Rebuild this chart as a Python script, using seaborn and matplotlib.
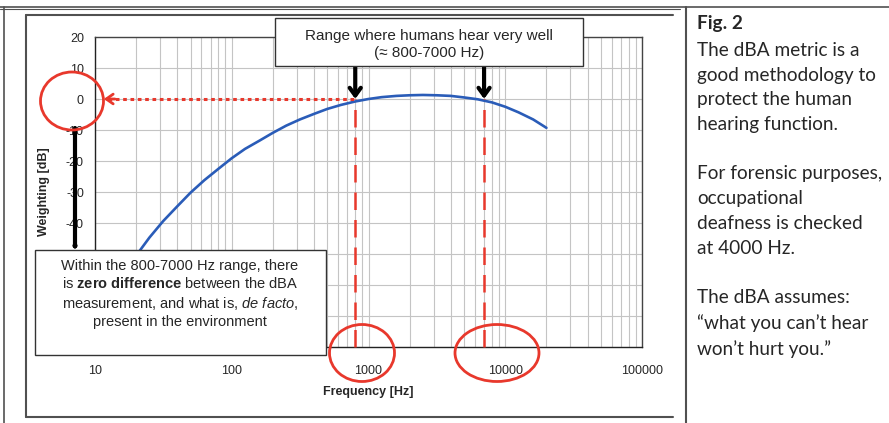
"""
A-weighting curve with annotations (Fig. 2 recreation).
"""

import matplotlib
matplotlib.use("Agg")
import matplotlib.pyplot as plt
import matplotlib.ticker as mticker
from matplotlib.lines import Line2D
from matplotlib.patches import Ellipse, FancyArrowPatch, Rectangle
import seaborn as sns

# Data: A-weighting, 1/3-octave bands
FREQ_HZ = [12.5, 16, 20, 25, 31.5, 40, 50, 63, 80, 100, 125, 160, 200, 250,
           315, 400, 500, 630, 800, 1000, 1250, 1600, 2000, 2500, 3150,
           4000, 5000, 6300, 8000, 10000, 12500, 16000, 20000]
WEIGHT_DB = [-63.4, -56.7, -50.5, -44.7, -39.4, -34.6, -30.2, -26.2, -22.5,
             -19.1, -16.1, -13.4, -10.9, -8.6, -6.6, -4.8, -3.2, -1.9, -0.8,
             0.0, 0.6, 1.0, 1.2, 1.3, 1.2, 1.0, 0.5, -0.1, -1.1, -2.5, -4.3,
             -6.6, -9.3]
RANGE_HZ = [800, 7000]
XTICKS = [10, 100, 1000, 10000, 100000]
XTICK_LABELS = ["10", "100", "1000", "10000", "100000"]
YTICKS = [-80, -70, -60, -50, -40, -30, -20, -10, 0, 10, 20]
# labels under the text box are hidden in the original
YTICK_LABELS = ["", "", "", "", "-40", "-30", "-20", "-10", "0", "10", "20"]

BLUE = "#2a5cb8"
RED = "#e8382c"
FRAME = "#505050"
W, H = 889, 423

sns.set_style("white")
plt.rcParams["font.family"] = ["Liberation Sans", "DejaVu Sans"]
plt.rcParams["axes.unicode_minus"] = False
plt.rcParams["mathtext.fontset"] = "custom"
plt.rcParams["mathtext.rm"] = "Liberation Sans"
plt.rcParams["mathtext.bf"] = "Liberation Sans:bold"
plt.rcParams["mathtext.it"] = "Liberation Sans:italic"


def px(x, y):
    """pixel position (top-left origin) -> figure fraction"""
    return x / W, 1 - y / H


fig = plt.figure(figsize=(W / 100, H / 100), dpi=100)
ax = fig.add_axes([95 / W, 1 - 347 / H, 547 / W, 310 / H])

sns.lineplot(x=FREQ_HZ, y=WEIGHT_DB, ax=ax, color=BLUE, linewidth=1.9, zorder=3)

ax.set_xscale("log")
ax.set_xlim(10, 100000)
ax.set_ylim(-80, 20)
ax.set_xticks(XTICKS)
ax.set_xticklabels(XTICK_LABELS)
ax.xaxis.set_minor_locator(mticker.LogLocator(base=10, subs=range(2, 10)))
ax.xaxis.set_minor_formatter(mticker.NullFormatter())
ax.set_yticks(YTICKS)
ax.set_yticklabels(YTICK_LABELS)
ax.tick_params(axis="both", which="major", direction="out", length=5,
               width=0.8, labelsize=9, color="#333")
ax.tick_params(axis="x", which="major", pad=8)
ax.tick_params(axis="y", which="major", pad=3)
ax.tick_params(axis="x", which="minor", length=0)

ax.grid(True, which="major", axis="both", color="#c4c4c4", linewidth=0.8)
ax.grid(True, which="minor", axis="x", color="#c4c4c4", linewidth=0.8)
for side, sp in ax.spines.items():
    sp.set_visible(True)
    sp.set_color("#222" if side in ("left", "bottom") else "#444")
    sp.set_linewidth(1.0)

ax.set_xlabel("Frequency [Hz]", fontsize=9, fontweight="bold")
ax.set_ylabel("Weighting [dB]", fontsize=9, fontweight="bold")
ax.xaxis.set_label_coords(0.5, -0.125)
ax.yaxis.set_label_coords(-0.082, 0.5)

# red guide lines
for f in RANGE_HZ:
    ax.plot([f, f], [-80, 0], color=RED, linewidth=1.8, dashes=(7, 4),
            zorder=4, clip_on=False)
ax.plot([12.5, RANGE_HZ[0]], [0, 0], color=RED, linewidth=2.2,
        dashes=(1.2, 1.2), zorder=4)
ax.annotate("", xy=(11.6, 0), xytext=(14, 0),
            arrowprops=dict(arrowstyle="->,head_width=0.35,head_length=0.5",
                            color=RED, lw=2, shrinkA=0, shrinkB=0))

# black arrows from the top box
for f in RANGE_HZ:
    ax.annotate("", xy=(f, 0), xytext=(f, 10.6),
                arrowprops=dict(arrowstyle="->,head_width=0.4,head_length=0.55",
                                color="black", lw=3, shrinkA=0, shrinkB=0),
                annotation_clip=False, zorder=5)

# left black arrow
fig.add_artist(FancyArrowPatch(px(75, 128), px(75, 250),
                               transform=fig.transFigure,
                               arrowstyle="->,head_width=0.4,head_length=0.55",
                               color="black", lw=3, shrinkA=0, shrinkB=0))

# text boxes
fig.add_artist(Rectangle(px(275, 66), 308 / W, 48 / H, transform=fig.transFigure,
                         facecolor="white", edgecolor="#333", linewidth=1.0))
fig.text(*px(429, 44.5), "Range where humans hear very well\n(\u2248 800-7000 Hz)",
         ha="center", va="center", fontsize=11, linespacing=1.3)

fig.add_artist(Rectangle(px(35, 355), 291 / W, 105 / H, transform=fig.transFigure,
                         facecolor="white", edgecolor="#333", linewidth=1.0))
fig.text(*px(180, 294),
         "Within the 800-7000 Hz range, there\n"
         "is $\\mathbf{zero\\ difference}$ between the dBA\n"
         "measurement, and what is, $\\mathit{de\\ facto}$,\n"
         "present in the environment",
         ha="center", va="center", fontsize=10.5, linespacing=1.3)

# red circles around tick labels
for cx, cy, ew, eh in [(72, 101, 63, 58), (362, 353, 65, 57), (497, 353, 84, 57)]:
    fig.add_artist(Ellipse(px(cx, cy), ew / W, eh / H, transform=fig.transFigure,
                           fill=False, edgecolor=RED, linewidth=2))

# page frames
for (x0, y0), (x1, y1), lw in [((0, 7), (W, 7), 1.2), ((0, 9), (680, 9), 0.8),
                                ((4, 7), (4, H), 1.2),
                                ((26, 15), (673, 15), 1.5), ((26, 15), (26, 417), 1.5),
                                ((26, 417), (673, 417), 1.5),
                                ((686, 7), (686, H), 1.5)]:
    a, b = px(x0, y0), px(x1, y1)
    fig.add_artist(Line2D([a[0], b[0]], [a[1], b[1]], color=FRAME, linewidth=lw,
                          transform=fig.transFigure))

# right-hand caption
fig.text(*px(697, 23), "Fig. 2", ha="left", va="center", fontsize=13.7,
         fontweight="bold", family=["Lato", "DejaVu Sans"])
fig.text(*px(697, 42),
         "The dBA metric is a\ngood methodology to\nprotect the human\n"
         "hearing function.\n\nFor forensic purposes,\noccupational\n"
         "deafness is checked\nat 4000 Hz.\n\nThe dBA assumes:\n"
         "\u201cwhat you can\u2019t hear\nwon\u2019t hurt you.\u201d",
         ha="left", va="top", fontsize=13.7, linespacing=1.55,
         family=["Lato", "DejaVu Sans"])

plt.savefig("out.png", dpi=100)
plt.close()
